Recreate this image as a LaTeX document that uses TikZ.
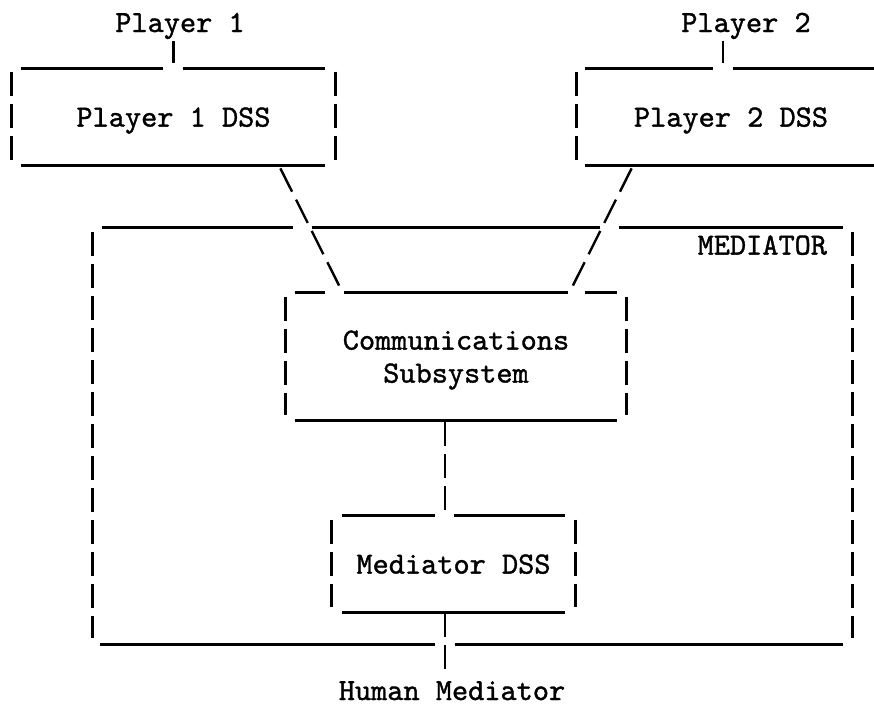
\documentclass[tikz,border=0pt]{standalone}
\usepackage{fontspec}
\newfontfamily\typewr{lmmono10-regular.otf}[FakeBold=1.2]
\usetikzlibrary{calc}

\begin{document}
\begin{tikzpicture}[x=0.5pt,y=-0.5pt,
	rule/.style={line width=1.3pt},
	side/.style={line width=1.2pt, dash pattern=on 12pt off 4pt},
	slant/.style={line width=1.2pt, dash pattern=on 13pt off 4.5pt},
	box/.style={inner sep=0pt, align=center, text depth=0pt},
	lbl/.style={inner sep=0pt}]
	\typewr\fontsize{15.4}{16.5}\selectfont
	\useasboundingbox (0,0) rectangle (874,707);
	\clip (0,0) rectangle (874,707);

	% players on top
	\node[lbl, anchor=base] (p1) at (180,32) {Player 1};
	\node[lbl, anchor=base] (p2) at (746,32) {Player 2};
	\node[box, minimum width=161.5pt, minimum height=48pt] (p1dss) at (173.5,117) {Player 1 DSS};
	\node[box, minimum width=154pt, minimum height=48pt] (p2dss) at (731,117) {Player 2 DSS};

	% mediator part
	\node[box, minimum width=379.5pt, minimum height=208pt] (med) at (472.5,436) {};
	\node[lbl, anchor=base east] (medlbl) at ($(med.north east)+(-25,27)$) {MEDIATOR};
	\node[box, minimum width=170pt, minimum height=63.5pt] (comm) at (456,356.5) {Communications\\Subsystem};
	\node[box, minimum width=121.5pt, minimum height=48pt] (mdss) at (453.5,564) {Mediator DSS};
	\node[lbl, anchor=base] (human) at (452,700) {Human Mediator};

	\coordinate (p2tap) at (723,0);
	\coordinate (hub) at (445,0);

	% box frames
	\draw[rule] ($(p1dss.north west)+(9,0)$) -- ($(p1dss.north west)+(151,0)$)
		($(p1dss.north west)+(171,0)$) -- ($(p1dss.north east)+(-10,0)$)
		($(p1dss.south west)+(9,0)$) -- ($(p1dss.south east)+(-10,0)$);
	\draw[side] ($(p1dss.north west)+(0,3)$) -- ($(p1dss.south west)+(0,-5)$)
		($(p1dss.north east)+(0,3)$) -- ($(p1dss.south east)+(0,-5)$);

	\draw[rule] ($(p2dss.north west)+(8,0)$) -- ($(p2dss.north west)+(136,0)$)
		($(p2dss.north west)+(156,0)$) -- ($(p2dss.north east)+(-8,0)$)
		($(p2dss.south west)+(8,0)$) -- ($(p2dss.south east)+(-8,0)$);
	\draw[side] ($(p2dss.north west)+(0,3)$) -- ($(p2dss.south west)+(0,-5)$)
		($(p2dss.north east)+(0,3)$) -- ($(p2dss.south east)+(0,-5)$);

	\draw[rule] ($(med.north west)+(9,0)$) -- ($(med.north west)+(200,0)$)
		($(med.north west)+(219,0)$) -- ($(med.north west)+(507,0)$)
		($(med.north west)+(526,0)$) -- ($(med.north east)+(-9,0)$)
		($(med.south west)+(7,0)$) -- ($(med.south west)+(342,0)$)
		($(med.south west)+(362,0)$) -- ($(med.south east)+(-9,0)$);
	\draw[side] ($(med.north west)+(0,4)$) -- ($(med.south west)+(0,-6)$)
		($(med.north east)+(0,4)$) -- ($(med.south east)+(0,-6)$);

	\draw[rule] ($(comm.north west)+(9,0)$) -- ($(comm.north west)+(39,0)$)
		($(comm.north west)+(58,0)$) -- ($(comm.north west)+(282,0)$)
		($(comm.north west)+(299,0)$) -- ($(comm.north east)+(-9,0)$)
		($(comm.south west)+(9,0)$) -- ($(comm.south east)+(-9,0)$);
	\draw[side] ($(comm.north west)+(0,4)$) -- ($(comm.south west)+(0,-5)$)
		($(comm.north east)+(0,4)$) -- ($(comm.south east)+(0,-5)$);

	\draw[rule] ($(mdss.north west)+(10,0)$) -- ($(mdss.north west)+(103,0)$)
		($(mdss.north west)+(122,0)$) -- ($(mdss.north east)+(-10,0)$)
		($(mdss.south west)+(10,0)$) -- ($(mdss.south east)+(-10,0)$);
	\draw[side] ($(mdss.north west)+(0,4)$) -- ($(mdss.south west)+(0,-5)$)
		($(mdss.north east)+(0,4)$) -- ($(mdss.south east)+(0,-5)$);

	% links
	\draw[rule, shorten <=1pt, shorten >=3pt] (p1.south -| p1dss.north) -- (p1dss.north);
	\draw[rule, shorten <=1pt, shorten >=3pt] (p2.south -| p2tap) -- (p2dss.north -| p2tap);
	\draw[slant] ($(p1dss.south east)+(-55,3)$) -- ($(comm.north west)+(54,-6)$);
	\draw[slant] ($(p2dss.south west)+(55,3)$) -- ($(comm.north east)+(-54,-6)$);
	\draw[side, shorten <=1pt, shorten >=3pt] (comm.south -| hub) -- (mdss.north -| hub);
	\draw[side, shorten <=0.5pt, shorten >=4.5pt] (mdss.south -| hub) -- (human.north -| hub);
\end{tikzpicture}
\end{document}
